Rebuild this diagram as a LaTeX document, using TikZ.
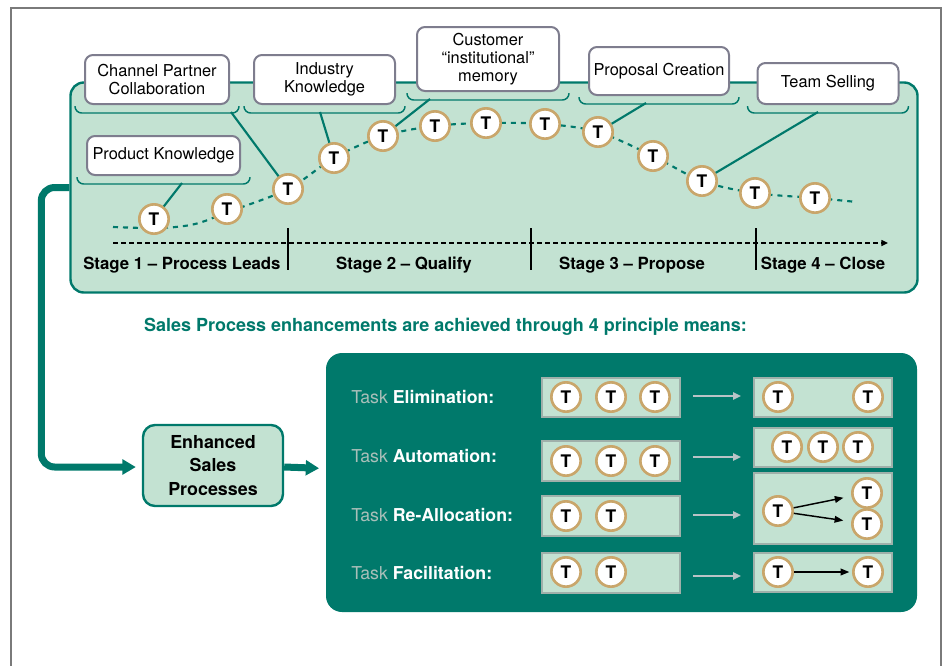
\documentclass[tikz,border=0pt]{standalone}
\usepackage{fontspec}
\setmainfont{TeX Gyre Heros}
\usetikzlibrary{arrows.meta,calc}
\definecolor{tealc}{HTML}{00796B}
\definecolor{lgreen}{HTML}{C3E2D2}
\definecolor{tanc}{HTML}{C9A66B}
\definecolor{lblc}{HTML}{7E7D8E}
\definecolor{framec}{HTML}{7A7A7A}
\definecolor{boxgray}{HTML}{9FB0AA}
\definecolor{garr}{HTML}{B9C3C6}
\definecolor{taskgray}{HTML}{A9BFB9}
\newcommand\brkt[1]{\draw[brk] ($(#1.south west)+(-9,1)$) -- ($(#1.south west)+(-9,8)$) -- ($(#1.south east)+(9,8)$) -- ($(#1.south east)+(9,1)$);}
\begin{document}
\begin{tikzpicture}[x=0.75pt,y=-0.75pt,
  lbl/.style={draw=lblc, line width=1.5pt, fill=white, rounded corners=6pt, align=center,
    inner sep=0pt, font=\fontsize{12.3}{13.3}\selectfont},
  brk/.style={draw=tealc, line width=1.1pt, rounded corners=5pt},
  tc/.style={circle, draw=tanc, line width=2pt, fill=white, minimum size=22pt, inner sep=0pt,
    font=\fontsize{13}{13}\selectfont\bfseries},
  conn/.style={draw=tealc, line width=1.6pt},
  stagetxt/.style={font=\fontsize{12.6}{14}\selectfont\bfseries, inner sep=0pt},
  tbox/.style={draw=boxgray, line width=1pt, fill=lgreen, minimum width=138*0.75pt, inner sep=0pt},
  tasktxt/.style={anchor=west, inner sep=0pt, text=white, font=\fontsize{13.3}{15}\selectfont},
  garrow/.style={draw=garr, line width=1.3pt, -{Triangle[length=6pt,width=5.5pt]}},
  barrow/.style={draw=black, line width=1.1pt, -{Triangle[length=6.5pt,width=5pt]}},
  bigarrow/.style={draw=tealc, line width=5.25pt, -{Triangle[length=10pt,width=11pt]}}
]
\useasboundingbox (0,0) rectangle (948,665);
% outer frame
\draw[framec, line width=1.8pt] (11,667) -- (11,8) -- (941,8) -- (941,667);

% top panel
\node[draw=tealc, line width=1.8pt, fill=lgreen, rounded corners=10pt, minimum width=847*0.75pt,
  minimum height=210*0.75pt, inner sep=0pt] (top) at (494,187.5) {};

% dashed curve through task circles
\draw[tealc, line width=1.6pt, dash pattern=on 3.75pt off 3.75pt]
  plot[smooth, tension=0.55] coordinates {(113,227) (160,228) (195,224) (228,212) (288,189) (334,158)
  (383,136) (435,126) (486,123) (545,124) (598,132) (653,156) (702,181) (755,193) (815,198) (857,202)};

% label boxes
\node[lbl, minimum width=144*0.75pt, minimum height=49*0.75pt] (chan) at (157,79.5) {Channel Partner\\Collaboration};
\node[lbl, minimum width=141*0.75pt, minimum height=49*0.75pt] (ind) at (324.5,79.5) {Industry\\Knowledge};
\node[lbl, minimum width=142*0.75pt, minimum height=64*0.75pt] (cust) at (488,59) {Customer\\“institutional”\\memory};
\node[lbl, minimum width=140*0.75pt, minimum height=48*0.75pt] (prop) at (659,71) {Proposal Creation};
\node[lbl, minimum width=141*0.75pt, minimum height=41*0.75pt] (team) at (828,83.5) {Team Selling};
\node[lbl, minimum width=153*0.75pt, minimum height=39*0.75pt] (prod) at (163.5,155.5) {Product Knowledge};
\brkt{chan}\brkt{ind}\brkt{cust}\brkt{prop}\brkt{team}\brkt{prod}

% T circles along the process
\node[tc] (t1) at (154,219) {T};
\node[tc] (t2) at (227,209) {T};
\node[tc] (t3) at (288,189) {T};
\node[tc] (t4) at (334,158) {T};
\node[tc] (t5) at (383,136) {T};
\node[tc] (t6) at (435,126) {T};
\node[tc] (t7) at (486,123) {T};
\node[tc] (t8) at (545,124) {T};
\node[tc] (t9) at (598,132) {T};
\node[tc] (t10) at (653,156) {T};
\node[tc] (t11) at (702,181) {T};
\node[tc] (t12) at (755,193) {T};
\node[tc] (t13) at (815,198) {T};

% bracket-to-task connectors
\coordinate (pb) at (182,183);
\coordinate (cb) at (231,112);
\coordinate (ib) at (320,112);
\coordinate (ub) at (430,99);
\coordinate (rb) at (646,103);
\coordinate (sb) at (818,112);
\draw[conn] (pb) -- (t1);
\draw[conn] (cb) -- (t3);
\draw[conn] (ib) -- (t4);
\draw[conn] (ub) -- (t5);
\draw[conn] (rb) -- (t9);
\draw[conn] (sb) -- (t11);

% stage axis
\coordinate (ax0) at (113,243);
\coordinate (ax1) at (888,243);
\draw[black, line width=1pt, dash pattern=on 3.5pt off 2.5pt, -{Triangle[length=5pt,width=4.5pt]}] (ax0) -- (ax1);
\coordinate (k1a) at (288,228); \coordinate (k1b) at (288,270);
\coordinate (k2a) at (531,228); \coordinate (k2b) at (531,270);
\coordinate (k3a) at (756,228); \coordinate (k3b) at (756,270);
\draw[line width=1pt] (k1a) -- (k1b);
\draw[line width=1pt] (k2a) -- (k2b);
\draw[line width=1pt] (k3a) -- (k3b);
\node[stagetxt, anchor=west] (s1) at (83,265) {Stage 1 – Process Leads};
\node[stagetxt] (s2) at (404,265) {Stage 2 – Qualify};
\node[stagetxt] (s3) at (632,265) {Stage 3 – Propose};
\node[stagetxt] (s4) at (823,265) {Stage 4 – Close};

% heading
\node[text=tealc, font=\fontsize{13.5}{15}\selectfont\bfseries, inner sep=0pt] (head) at (445.5,327)
  {Sales Process enhancements are achieved through 4 principle means:};

% enhanced sales processes
\node[draw=tealc, line width=1.8pt, fill=lgreen, rounded corners=9pt, minimum width=140*0.75pt,
  minimum height=81*0.75pt, inner sep=0pt, align=center, font=\fontsize{13.4}{17.5}\selectfont\bfseries]
  (esp) at (213,465.5) {Enhanced\\Sales\\Processes};

% dark panel
\node[fill=tealc, rounded corners=12pt, minimum width=591*0.75pt, minimum height=259*0.75pt, inner sep=0pt]
  (dark) at (621.5,482.5) {};

% thick connectors
\draw[bigarrow, rounded corners=10pt, shorten >=4.5pt] (top.west) -- ++(-28,0) |- ($(esp.west)+(0,1.5)$);
\draw[bigarrow, shorten >=5pt] ($(esp.east)+(0,1.5)$) -- ($(dark.west)+(0,-14)$);

% task labels
\node[tasktxt] (l1) at (351,397) {{\color{taskgray}Task} \textbf{Elimination:}};
\node[tasktxt] (l2) at (351,456) {{\color{taskgray}Task} \textbf{Automation:}};
\node[tasktxt] (l3) at (351,515) {{\color{taskgray}Task} \textbf{Re-Allocation:}};
\node[tasktxt] (l4) at (351,573) {{\color{taskgray}Task} \textbf{Facilitation:}};

% task boxes
\node[tbox, minimum height=39*0.75pt] (lb1) at (611,397.5) {};
\node[tbox, minimum height=40*0.75pt] (lb2) at (611,461) {};
\node[tbox, minimum height=40*0.75pt] (lb3) at (611,516) {};
\node[tbox, minimum height=40*0.75pt] (lb4) at (611,573) {};
\node[tbox, minimum height=39*0.75pt] (rb1) at (823,397.5) {};
\node[tbox, minimum height=39*0.75pt] (rb2) at (823,447.5) {};
\node[tbox, minimum height=71*0.75pt] (rb3) at (823,508.5) {};
\node[tbox, minimum height=39*0.75pt] (rb4) at (823,572.5) {};

% circles in task boxes
\node[tc] (a11) at (566,397) {T};
\node[tc] (a12) at (611,397) {T};
\node[tc] (a13) at (655,397) {T};
\node[tc] (a21) at (566,461) {T};
\node[tc] (a22) at (611,461) {T};
\node[tc] (a23) at (655,461) {T};
\node[tc] (a31) at (566,516) {T};
\node[tc] (a32) at (611,516) {T};
\node[tc] (a41) at (566,572) {T};
\node[tc] (a42) at (611,572) {T};
\node[tc] (b11) at (778,397) {T};
\node[tc] (b12) at (868,397) {T};
\node[tc] (b21) at (787,447) {T};
\node[tc] (b22) at (823,447) {T};
\node[tc] (b23) at (858,447) {T};
\node[tc] (b31) at (778,511) {T};
\node[tc] (b32) at (867,493) {T};
\node[tc] (b33) at (867,524) {T};
\node[tc] (b41) at (778,572) {T};
\node[tc] (b42) at (868,572) {T};

% gray arrows between before/after
\coordinate (g1a) at (693,396); \coordinate (g1b) at (741,396);
\coordinate (g2a) at (693,457); \coordinate (g2b) at (741,457);
\coordinate (g3a) at (693,515); \coordinate (g3b) at (741,515);
\coordinate (g4a) at (693,576); \coordinate (g4b) at (741,576);
\draw[garrow] (g1a) -- (g1b);
\draw[garrow] (g2a) -- (g2b);
\draw[garrow] (g3a) -- (g3b);
\draw[garrow] (g4a) -- (g4b);

% black arrows
\draw[barrow, shorten >=6pt] (b31) -- (b32);
\draw[barrow, shorten >=6pt] (b31) -- (b33);
\draw[barrow, shorten >=2pt] (b41) -- (b42);
\end{tikzpicture}
\end{document}
